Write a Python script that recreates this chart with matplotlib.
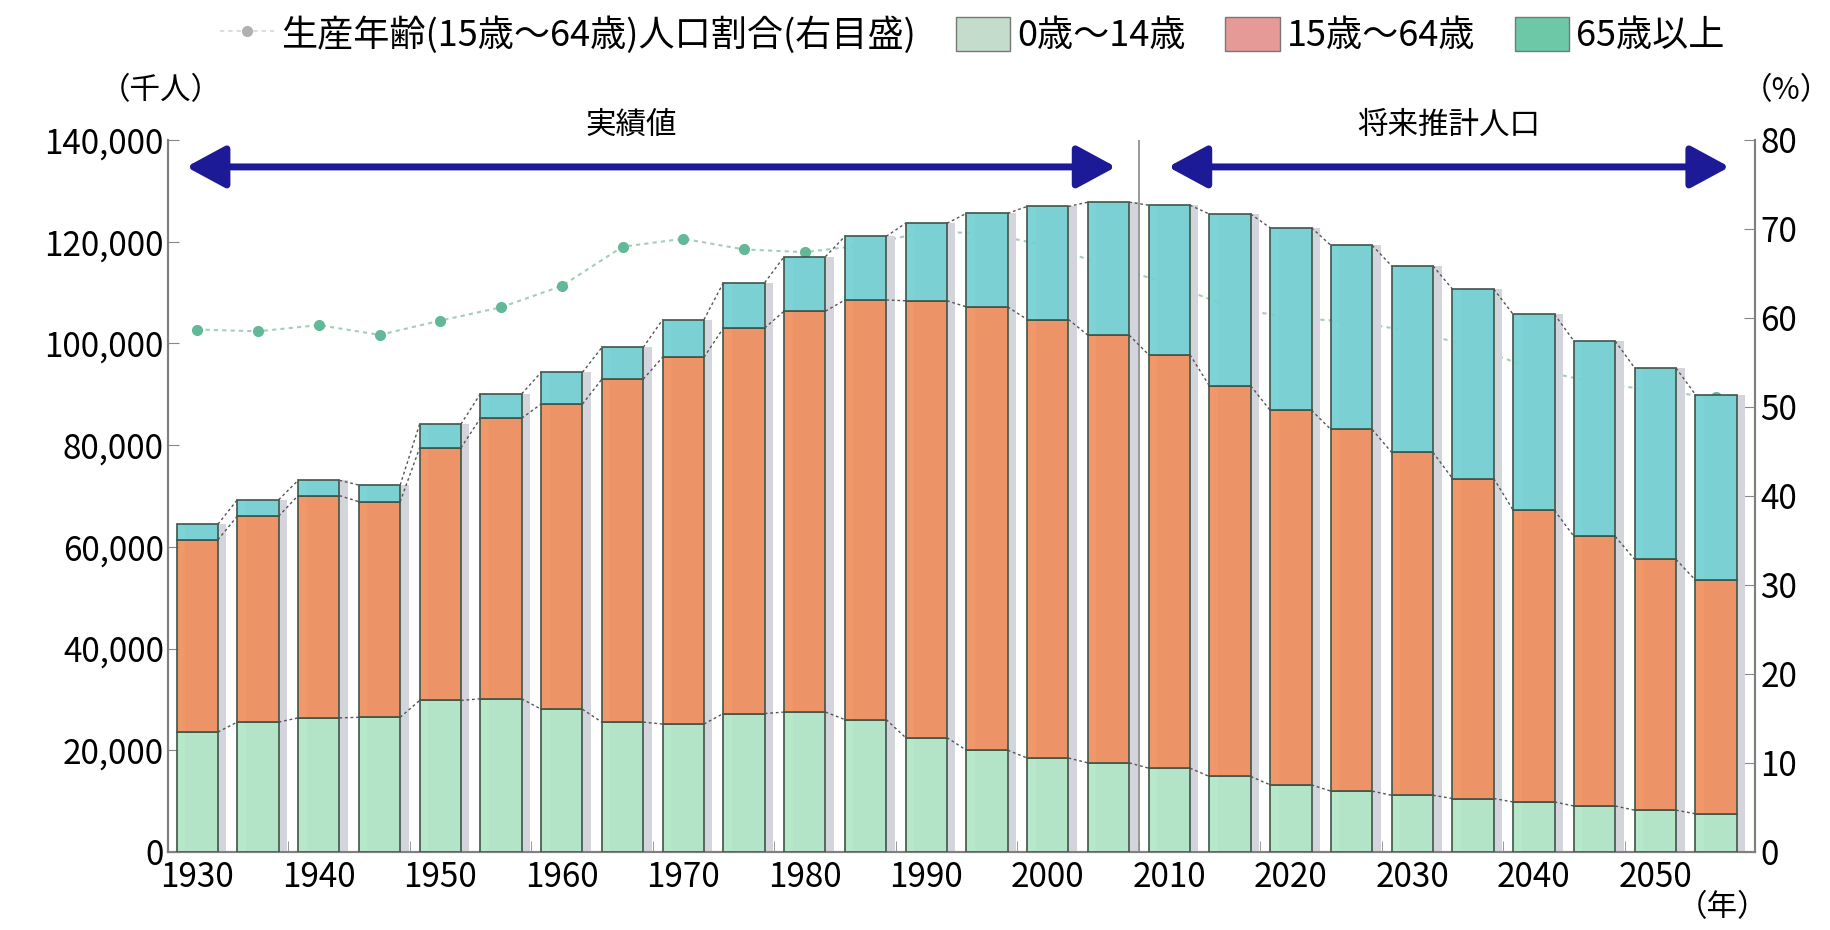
"""Japan population by age group, 1930-2055 (actual + projection)."""

import matplotlib
matplotlib.use("Agg")
import matplotlib.pyplot as plt
from matplotlib.patches import Patch
from matplotlib.lines import Line2D
from matplotlib.ticker import FuncFormatter

plt.rcParams["font.family"] = ["Noto Sans CJK JP", "DejaVu Sans"]

# --- data (thousand persons / %) ---
years = [1930, 1935, 1940, 1945, 1950, 1955, 1960, 1965, 1970, 1975, 1980, 1985, 1990,
         1995, 2000, 2005, 2010, 2015, 2020, 2025, 2030, 2035, 2040, 2045, 2050, 2055]
age_0_14 = [23579, 25545, 26369, 26477, 29786, 30123, 28067, 25529, 25153, 27221, 27507,
            26033, 22486, 20014, 18472, 17521, 16479, 14841, 13201, 11956, 11150, 10512,
            9833, 9036, 8214, 7517]
age_15_64 = [37807, 40484, 43700, 42400, 49658, 55167, 60002, 67444, 72119, 75807, 78835,
             82506, 85904, 87165, 86220, 84092, 81285, 76807, 73635, 71118, 67404, 62919,
             57335, 53000, 49297, 45951]
total = [64450, 69254, 73075, 72147, 84115, 90077, 94302, 99209, 104665, 111940, 117060,
         121049, 123611, 125570, 126926, 127768, 127176, 125430, 122735, 119270, 115224,
         110679, 105695, 100443, 95152, 89930]
age_65 = [t - a - b for t, a, b in zip(total, age_0_14, age_15_64)]
working_ratio = [58.7, 58.5, 59.2, 58.1, 59.7, 61.2, 63.6, 68.0, 68.9, 67.7, 67.4, 68.2,
                 69.7, 69.5, 68.1, 65.8, 63.9, 61.2, 60.0, 59.6, 58.5, 56.8, 54.2, 52.8,
                 51.8, 51.1]

C_YOUNG = "#b2e6c6"
C_WORK = "#ef8f5d"
C_OLD = "#72d0d2"
EDGE = "#3f5548"
W = 3.4

fig = plt.figure(figsize=(18.31, 9.30), dpi=100)
ax = fig.add_axes([0.0918, 0.0839, 0.8667, 0.7656])
ax2 = ax.twinx()
ax.set_zorder(ax2.get_zorder() + 1)
ax.patch.set_visible(False)

# shadow strips to the right of each bar
ax.bar([y + 0.7 for y in years], total, width=W, color="#d4d4dc", zorder=1, linewidth=0)

ax.bar(years, age_0_14, width=W, color=C_YOUNG, edgecolor=EDGE, lw=1.3, zorder=3,
       alpha=0.92)
ax.bar(years, age_15_64, width=W, bottom=age_0_14, color=C_WORK, edgecolor=EDGE,
       lw=1.3, zorder=3, alpha=0.92)
bottom2 = [a + b for a, b in zip(age_0_14, age_15_64)]
ax.bar(years, age_65, width=W, bottom=bottom2, color=C_OLD, edgecolor=EDGE, lw=1.3,
       zorder=3, alpha=0.92)

# series lines between neighbouring bar tops
for level in (age_0_14, bottom2, total):
    xs, ys = [], []
    for i in range(len(years) - 1):
        xs += [years[i] + W / 2, years[i + 1] - W / 2, float("nan")]
        ys += [level[i], level[i + 1], float("nan")]
    ax.plot(xs, ys, ls=(0, (2, 2)), color="#555555", lw=1.0, zorder=4)

# divider between actual and projection
ax.axvline(2007.5, color="#888888", lw=1.2, zorder=2)

# right-axis ratio line, behind bars
ax2.plot(years, working_ratio, ls=(0, (2, 2)), color="#a5cdbb", lw=1.5, marker="o",
         ms=7, mfc="#62b897", mec="#62b897")

ax.set_xlim(1927.6, 2058.2)
ax.set_ylim(0, 140000)
ax2.set_ylim(0, 80)
ax.set_yticks(range(0, 140001, 20000))
ax2.set_yticks(range(0, 81, 10))
ax.yaxis.set_major_formatter(FuncFormatter(lambda v, p: f"{int(v):,}"))
ax.set_xticks(range(1930, 2051, 10))
ax.set_xticks([1937.5 + 10 * k for k in range(12)], minor=True)
ax.tick_params(axis="x", which="major", length=0, labelsize=24, pad=6)
ax.tick_params(axis="x", which="minor", direction="in", length=8, color="#888888")
ax.tick_params(axis="y", direction="in", length=8, color="#888888", labelsize=24, pad=3)
ax2.tick_params(axis="y", direction="in", length=8, color="#888888", labelsize=24, pad=4)

for a in (ax, ax2):
    a.spines["top"].set_visible(False)
    for s in ("left", "right", "bottom"):
        a.spines[s].set_color("#808080")
        a.spines[s].set_linewidth(1.5)

# period arrows and labels
arrow_kw = dict(arrowstyle="<|-|>,head_length=2.4,head_width=1.3", color="#1c1a96",
                lw=5, shrinkA=0, shrinkB=0)
ax.annotate("", xy=(1929.1, 134700), xytext=(2005.6, 134700), arrowprops=arrow_kw,
            zorder=5, annotation_clip=False)
ax.annotate("", xy=(2009.9, 134700), xytext=(2056.1, 134700), arrowprops=arrow_kw,
            zorder=5, annotation_clip=False)
ax.text(1965.7, 142800, "実績値", ha="center", va="center", fontsize=22, clip_on=False)
ax.text(2033.0, 142800, "将来推計人口", ha="center", va="center", fontsize=22,
        clip_on=False)

fig.text(0.088, 0.903, "（千人）", ha="center", va="center", fontsize=22)
fig.text(0.9757, 0.903, "（%）", ha="center", va="center", fontsize=22)
fig.text(0.9407, 0.024, "（年）", ha="center", va="center", fontsize=22)

handles = [
    Line2D([], [], ls=(0, (2, 2)), color="#dddddd", marker="o", ms=7, mfc="#b0b0b0",
           mec="#b0b0b0"),
    Patch(facecolor="#c4dccb", edgecolor="#777777"),
    Patch(facecolor="#e59a98", edgecolor="#777777"),
    Patch(facecolor="#6cc8a6", edgecolor="#777777"),
]
labels = ["生産年齢(15歳～64歳)人口割合(右目盛)", "0歳～14歳", "15歳～64歳", "65歳以上"]
fig.legend(handles, labels, loc="center", bbox_to_anchor=(0.531, 0.962), ncol=4,
           frameon=False, fontsize=26, handlelength=1.5, handleheight=1.1,
           handletextpad=0.2, columnspacing=1.1)

fig.savefig("out.png", dpi=100)
